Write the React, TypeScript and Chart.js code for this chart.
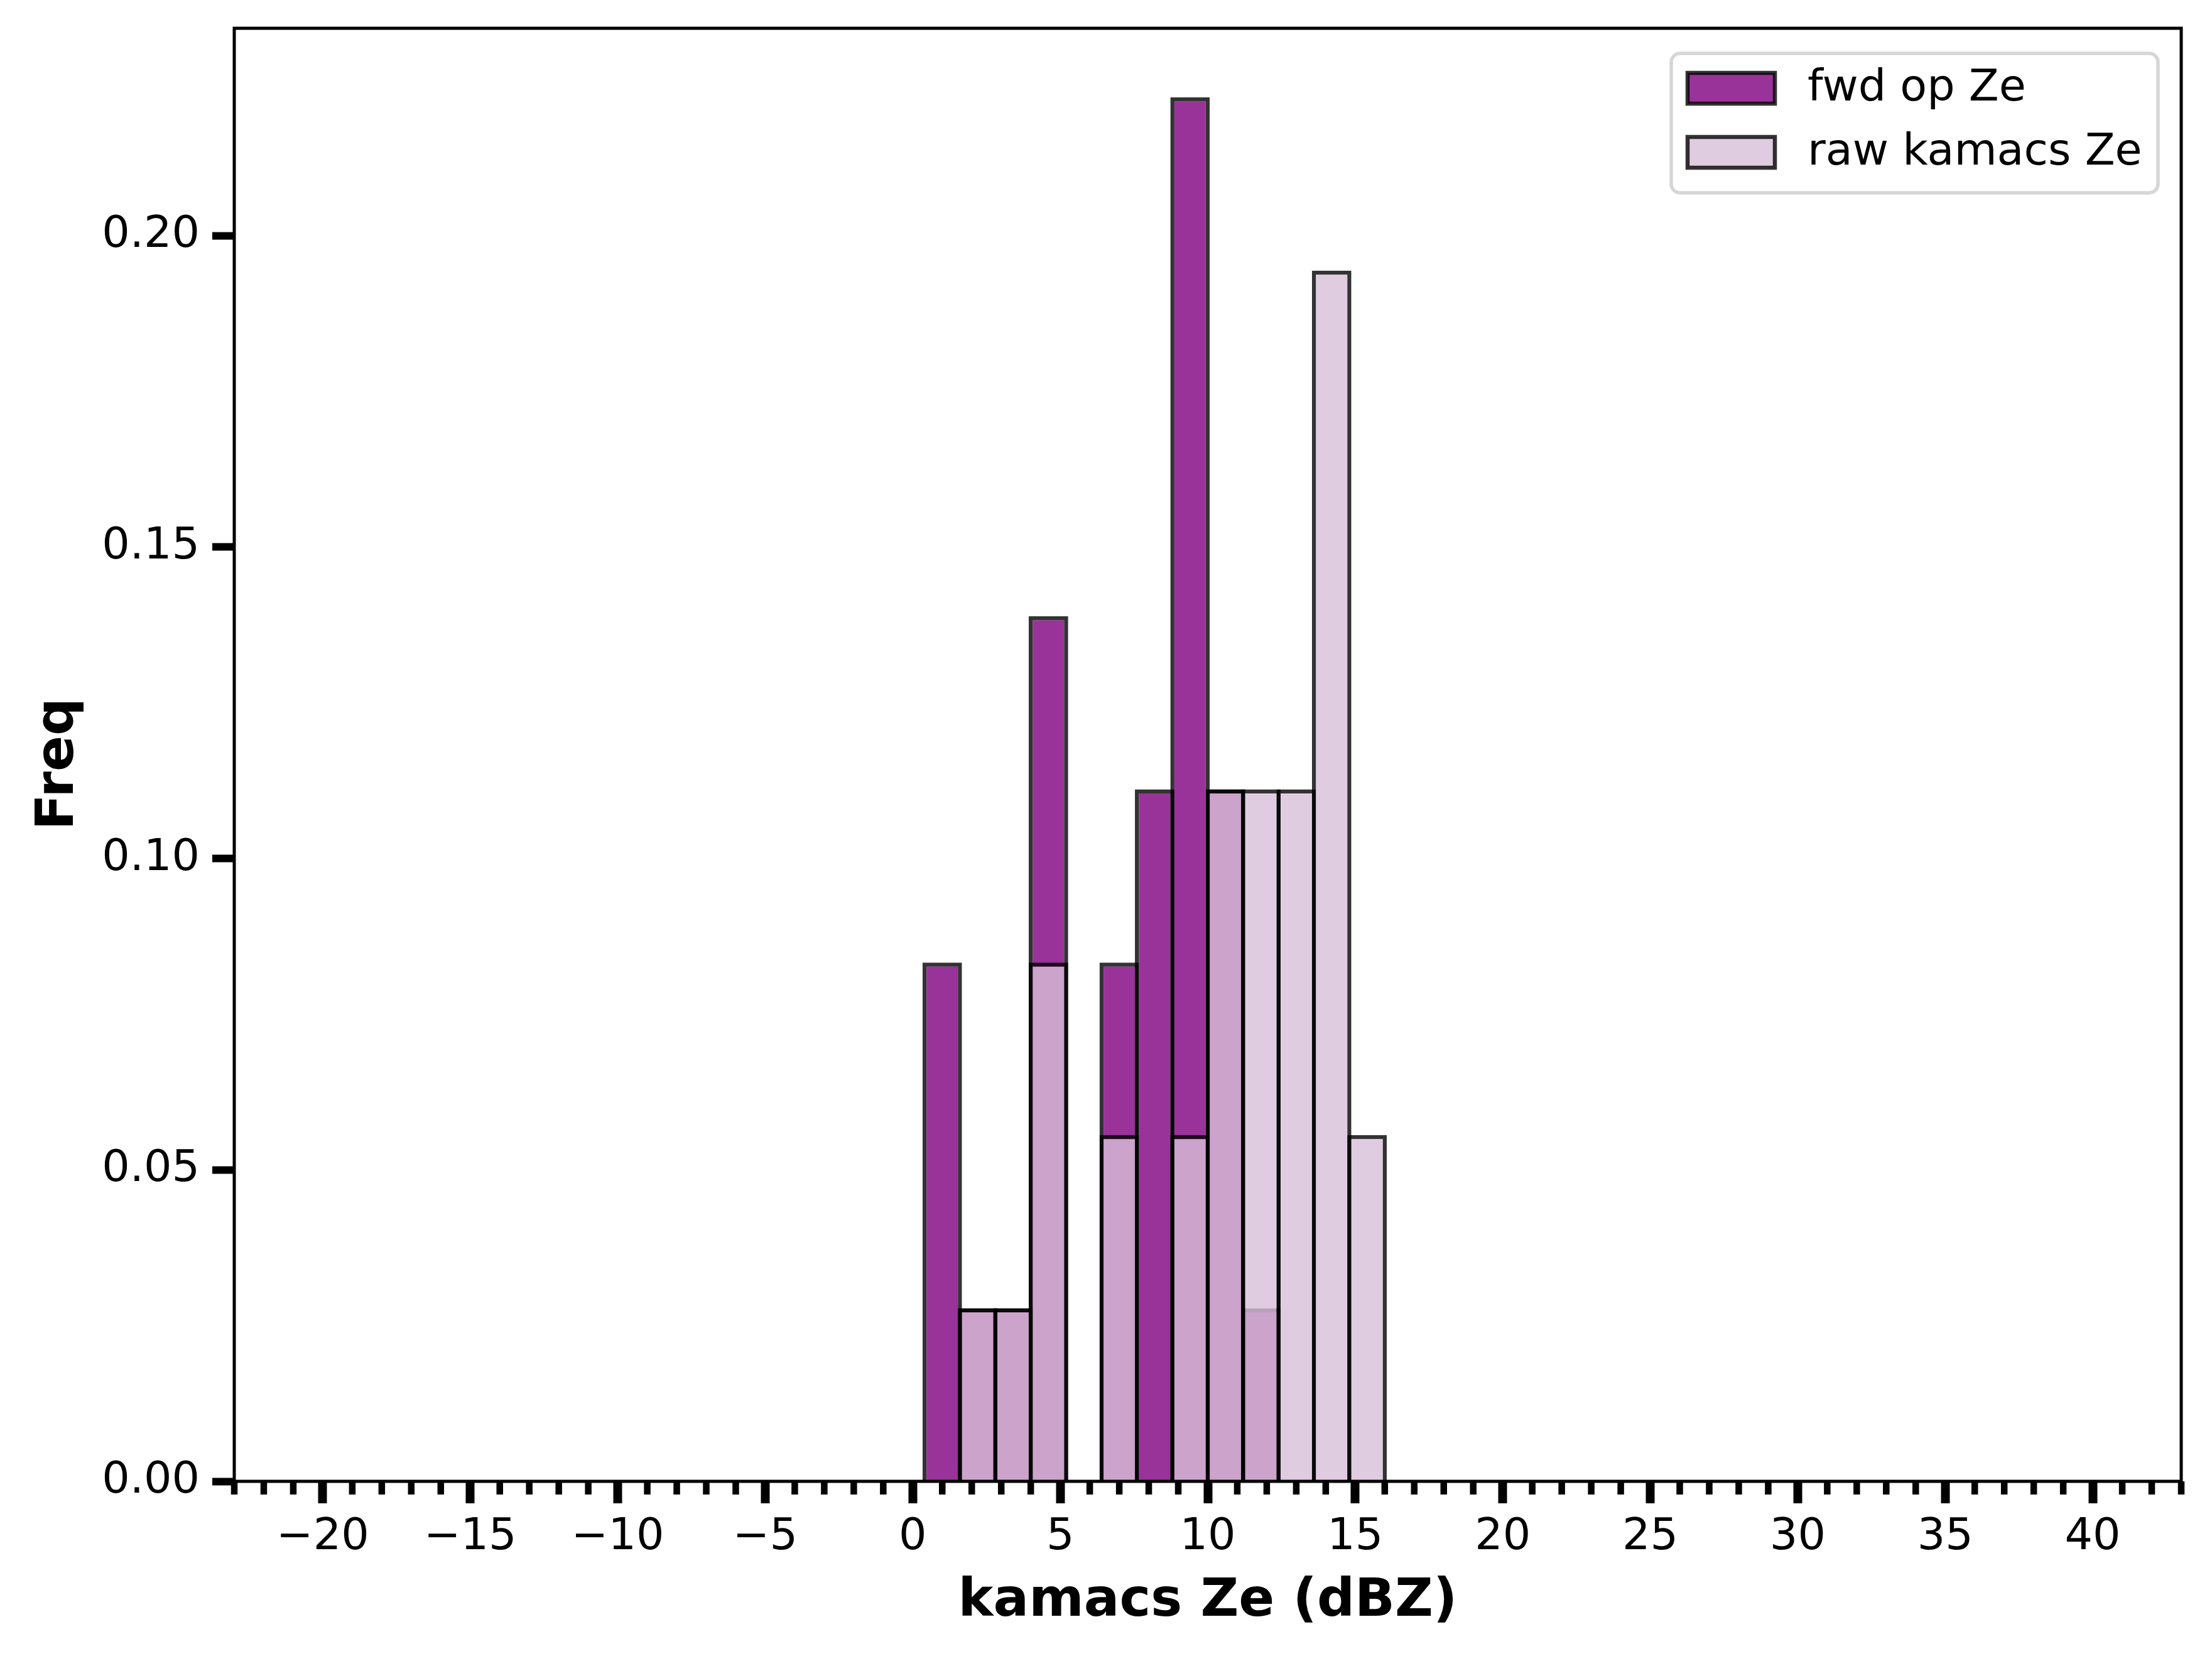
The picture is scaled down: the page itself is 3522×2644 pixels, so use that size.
import React, { useEffect, useRef } from 'react';
import { Chart, registerables } from 'chart.js';

Chart.register(...registerables);

// ---- data ----
const binCenters = [1.0, 2.2, 3.4, 4.6, 5.8, 7.0, 8.2, 9.4, 10.6, 11.8, 13.0, 14.2, 15.4];
const fwdOpZe = [0.0833, 0.0278, 0.0278, 0.1389, 0, 0.0833, 0.1111, 0.2222, 0.1111, 0.0278, 0, 0, 0];
const rawKamacsZe = [0, 0.0278, 0.0278, 0.0833, 0, 0.0556, 0, 0.0556, 0.1111, 0.1111, 0.1111, 0.1944, 0.0556];
const seriesLabels = ['fwd op Ze', 'raw kamacs Ze'];
const xMajorTicks = [-20, -15, -10, -5, 0, 5, 10, 15, 20, 25, 30, 35, 40];
const xMinorTicks = [
  -23, -22, -21, -19, -18, -17, -16, -14, -13, -12, -11, -9, -8, -7, -6, -4, -3, -2, -1,
  1, 2, 3, 4, 6, 7, 8, 9, 11, 12, 13, 14, 16, 17, 18, 19, 21, 22, 23, 24, 26, 27, 28, 29,
  31, 32, 33, 34, 36, 37, 38, 39, 41, 42, 43,
];
const yTicks = [0, 0.05, 0.1, 0.15, 0.2];
const xRange = [-23, 43];
const yRange = [0, 0.2333];
const xTitle = 'kamacs Ze (dBZ)';
const yTitle = 'Freq ';

// ---- style ----
const FONT = 'DejaVu Sans';
const W = 3522;
const H = 2644;
const fwdFill = 'rgba(128,0,128,0.8)';
const rawFill = 'rgba(216,191,216,0.8)';
const edge = 'rgba(0,0,0,0.8)';
const EDGE_W = 6.5;

const framePlugin = {
  id: 'frameAndMinor',
  afterDatasetsDraw(chart: any) {
    const { ctx, chartArea: a, scales } = chart;
    const x = scales.x;
    ctx.save();
    ctx.strokeStyle = '#000';
    ctx.lineWidth = 10.5;
    for (const v of xMinorTicks) {
      const px = x.getPixelForValue(v);
      ctx.beginPath();
      ctx.moveTo(px, a.bottom);
      ctx.lineTo(px, a.bottom + 21);
      ctx.stroke();
    }
    ctx.lineWidth = 5;
    ctx.strokeRect(a.left, a.top, a.right - a.left, a.bottom - a.top);
    ctx.restore();
  },
};

const legendPlugin = {
  id: 'insideLegend',
  afterDraw(chart: any) {
    const { ctx } = chart;
    const ds = chart.data.datasets;
    ctx.save();
    const fx = 2661, fy = 85, fw = 775, fh = 222, r = 14;
    ctx.beginPath();
    ctx.roundRect(fx, fy, fw, fh, r);
    ctx.fillStyle = 'rgba(255,255,255,0.8)';
    ctx.fill();
    ctx.lineWidth = 5.5;
    ctx.strokeStyle = '#d6d6d6';
    ctx.stroke();
    const rows = [116, 218];
    ds.forEach((d: any, i: number) => {
      const y = rows[i];
      ctx.beginPath();
      ctx.rect(2687, y, 139, 49);
      ctx.fillStyle = d.backgroundColor;
      ctx.fill();
      ctx.lineWidth = EDGE_W;
      ctx.strokeStyle = d.borderColor;
      ctx.stroke();
      ctx.fillStyle = '#000';
      ctx.font = `70px "${FONT}"`;
      ctx.textBaseline = 'middle';
      ctx.textAlign = 'left';
      ctx.fillText(d.label, 2878, y + 26);
    });
    ctx.restore();
  },
};

export default function App() {
  const ref = useRef<HTMLCanvasElement>(null);

  useEffect(() => {
    document.body.style.margin = '0';
    const canvas = ref.current;
    if (!canvas) return;

    const barCommon = {
      borderColor: edge,
      borderWidth: EDGE_W,
      borderSkipped: 'start',
      grouped: false,
      categoryPercentage: 1,
      barPercentage: 1.115,
      inflateAmount: 0,
    };

    const chart = new Chart(canvas, {
      type: 'bar',
      data: {
        datasets: [
          {
            ...barCommon,
            label: seriesLabels[0],
            data: binCenters.map((c, i) => ({ x: c, y: fwdOpZe[i] })),
            backgroundColor: fwdFill,
            order: 2,
          } as any,
          {
            ...barCommon,
            label: seriesLabels[1],
            data: binCenters.map((c, i) => ({ x: c, y: rawKamacsZe[i] })),
            backgroundColor: rawFill,
            order: 1,
          } as any,
        ],
      },
      options: {
        animation: false,
        responsive: false,
        devicePixelRatio: 1,
        layout: { padding: { top: 45, right: 49, left: 0, bottom: 0 } },
        plugins: {
          legend: { display: false },
          tooltip: { enabled: false },
        },
        scales: {
          x: {
            type: 'linear',
            min: xRange[0],
            max: xRange[1],
            offset: false,
            grid: {
              display: true,
              drawOnChartArea: false,
              drawTicks: true,
              offset: false,
              tickLength: 35,
              tickWidth: 14,
              tickColor: '#000',
            },
            border: { display: false },
            afterBuildTicks: (scale: any) => {
              scale.ticks = xMajorTicks.map((v) => ({ value: v }));
            },
            afterFit: (scale: any) => {
              scale.height = H - 2358;
              scale.paddingLeft = 0;
              scale.paddingRight = 0;
            },
            ticks: {
              autoSkip: false,
              maxRotation: 0,
              minRotation: 0,
              padding: 13,
              color: '#000',
              font: { family: FONT, size: 70 },
              callback: (v: any) => (Number(v) < 0 ? '\u2212' + Math.abs(Number(v)) : String(v)),
            },
            title: {
              display: true,
              text: xTitle,
              color: '#000',
              font: { family: FONT, size: 84, weight: 'bold' },
              padding: { top: 0, bottom: 43 },
            },
          },
          y: {
            type: 'linear',
            min: yRange[0],
            max: yRange[1],
            grid: {
              display: true,
              drawOnChartArea: false,
              drawTicks: true,
              tickLength: 35,
              tickWidth: 12,
              tickColor: '#000',
            },
            border: { display: false },
            afterBuildTicks: (scale: any) => {
              scale.ticks = yTicks.map((v) => ({ value: v }));
            },
            afterFit: (scale: any) => {
              scale.width = 373;
              scale.paddingTop = 0;
              scale.paddingBottom = 0;
            },
            ticks: {
              autoSkip: false,
              padding: 20,
              color: '#000',
              font: { family: FONT, size: 70 },
              callback: (v: any) => Number(v).toFixed(2),
            },
            title: {
              display: true,
              text: yTitle,
              color: '#000',
              font: { family: FONT, size: 84, weight: 'bold' },
              padding: { top: 44, bottom: 0 },
            },
          },
        },
      } as any,
      plugins: [framePlugin, legendPlugin],
    });

    return () => chart.destroy();
  }, []);

  return (
    <div style={{ width: W, height: H, background: '#fff' }}>
      <canvas ref={ref} width={W} height={H} style={{ display: 'block', width: W, height: H }} />
    </div>
  );
}
